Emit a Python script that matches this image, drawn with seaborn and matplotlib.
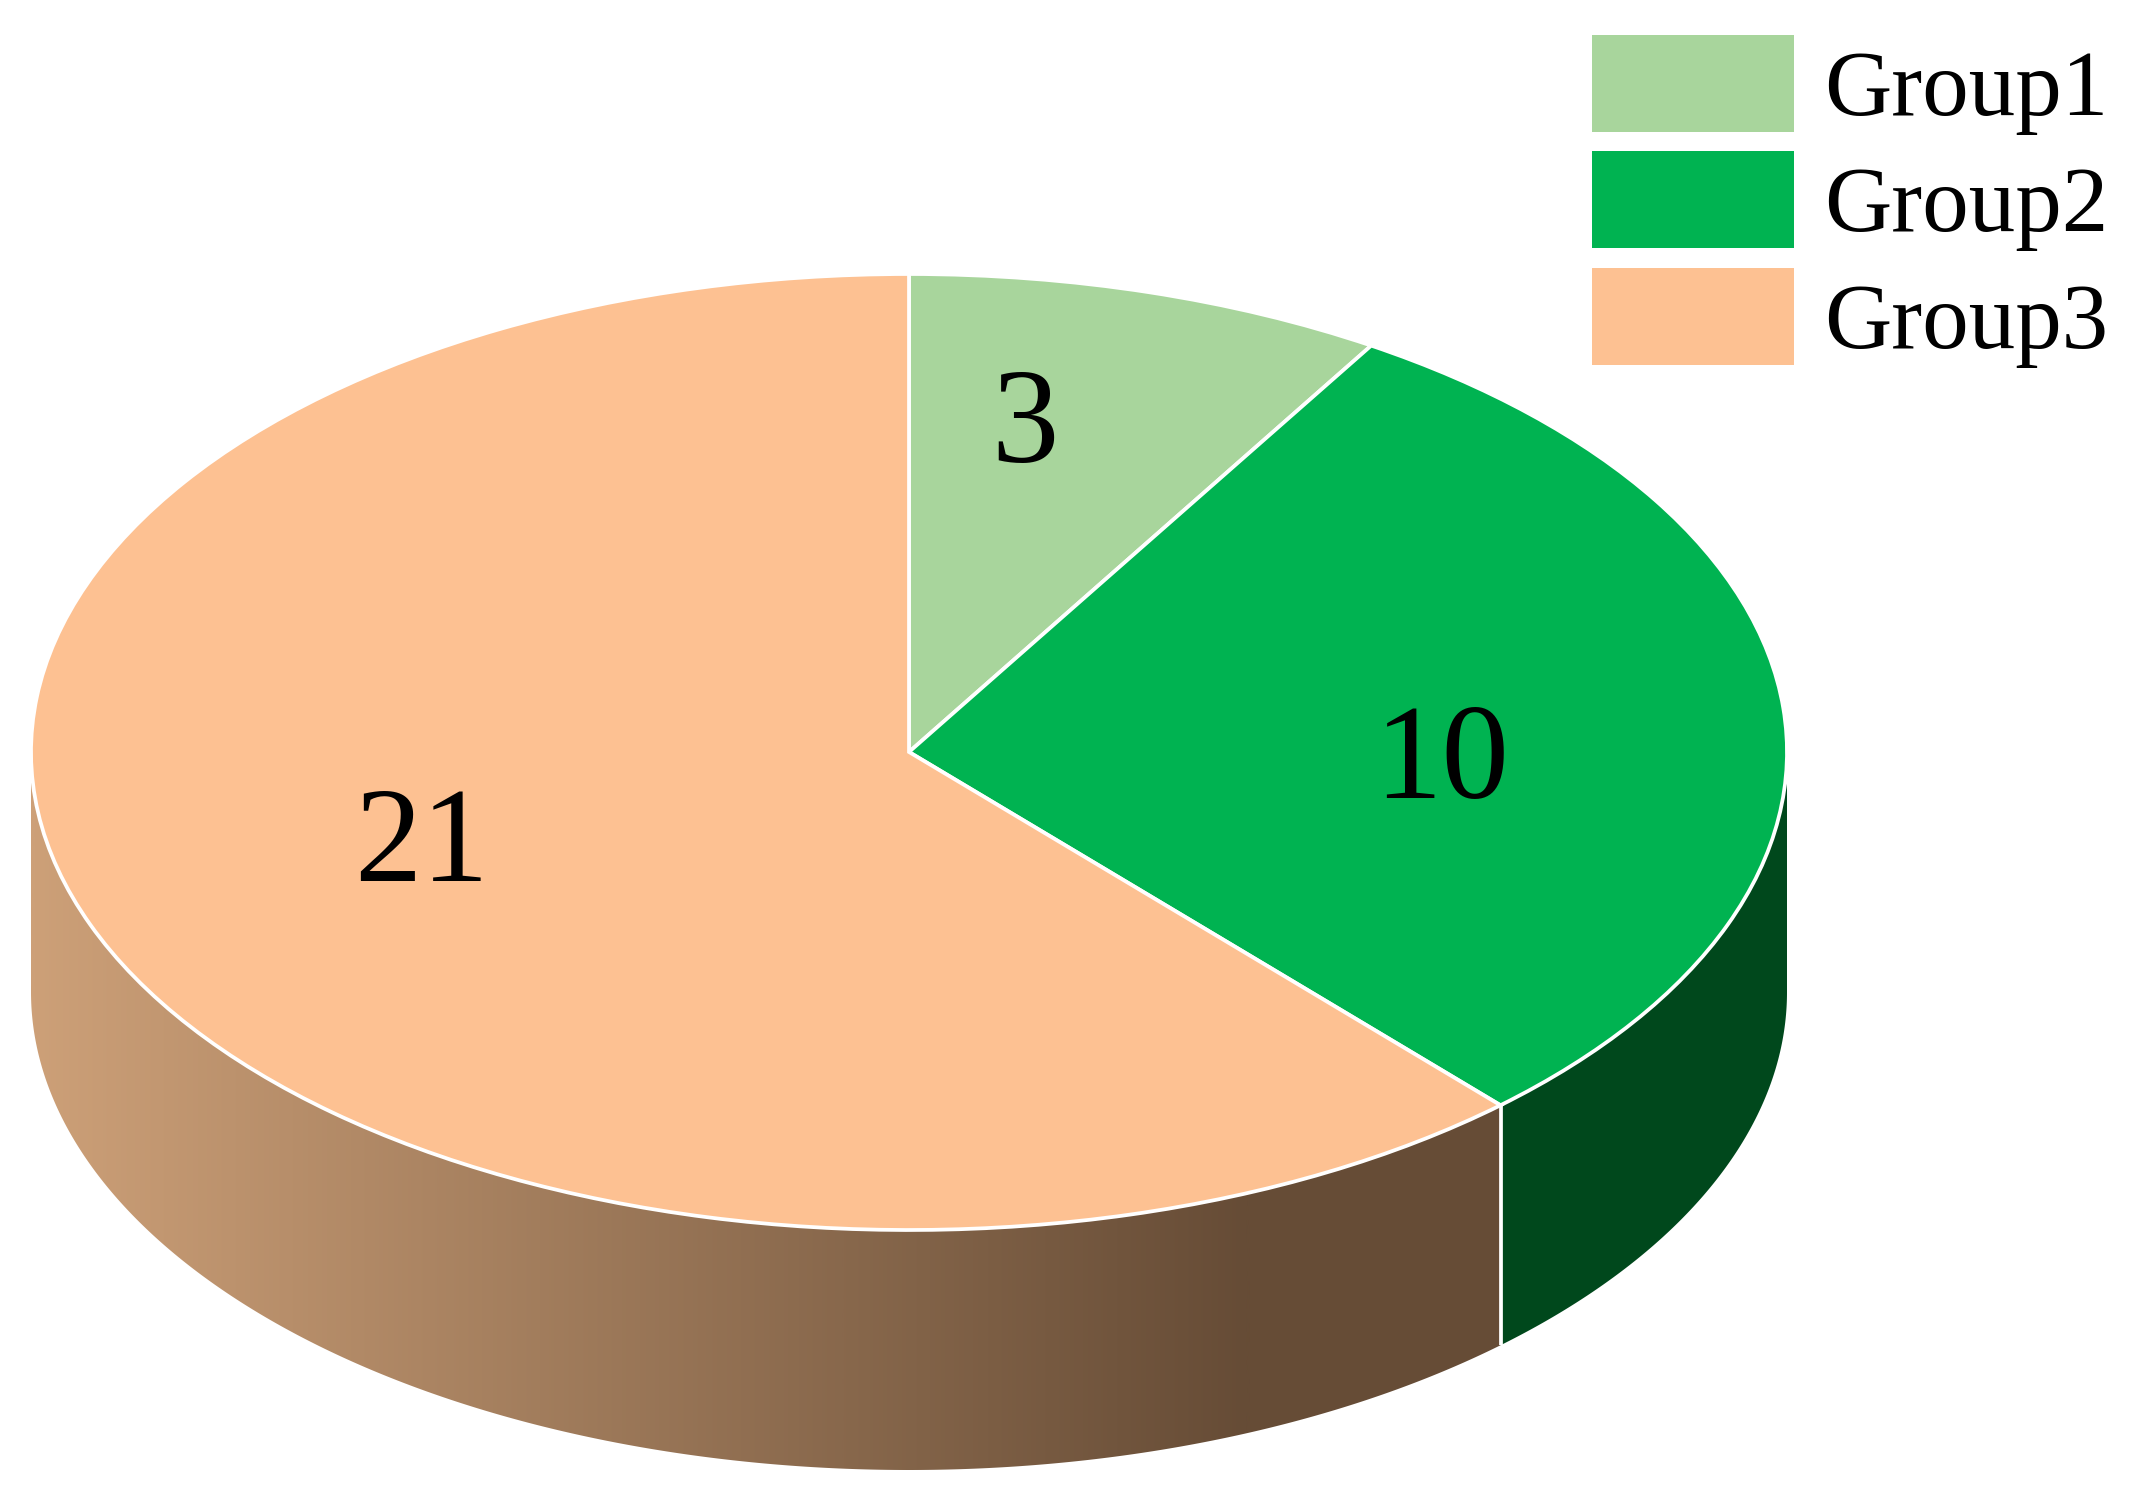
import numpy as np
import matplotlib
matplotlib.use("Agg")
import matplotlib.pyplot as plt
from matplotlib.patches import Patch, Polygon
from matplotlib.colors import LinearSegmentedColormap
import seaborn as sns

# Data
groups = ["Group1", "Group2", "Group3"]
counts = [3, 10, 21]

# Style
top_colors = ["#A8D59C", "#00B351", "#FDC192"]
side_green = "#00481C"
side_brown_light = "#CDA078"
side_brown_dark = "#664C36"
W, H = 2130, 1488
CX, CY, RX, RY, DEPTH = 909, 752, 878, 478, 240
label_xy_px = [(1025, 429), (1442, 765), (421, 848)]

sns.set_theme(style="white")
plt.rcParams["font.family"] = ["Liberation Serif", "DejaVu Serif"]
palette = sns.color_palette(top_colors)

fig = plt.figure(figsize=(W / 100, H / 100), dpi=100)
ax = fig.add_axes([0, 0, 1, 1])

xlim = (-CX / RX, (W - CX) / RX)
ylim = ((CY - H) / RY, CY / RY)
d = DEPTH / RY

wedges, _ = ax.pie(counts, colors=palette, startangle=90, counterclock=False,
                   wedgeprops=dict(edgecolor="white", linewidth=2.7))
for w in wedges:
    w.set_zorder(5)

# Side wall, derived from the same cumulative shares as the pie
cum = np.cumsum(counts) / np.sum(counts) * 2 * np.pi
seam = cum[1]


def wall(t0, t1):
    t = np.linspace(t0, t1, 300)
    x, y = np.sin(t), np.cos(t)
    return np.r_[np.c_[x, y], np.c_[x[::-1], y[::-1] - d]]


ax.add_patch(Polygon(wall(np.pi / 2, seam), closed=True, facecolor=side_green,
                     edgecolor="none", zorder=2))

brown_wall = Polygon(wall(seam, 1.5 * np.pi), closed=True, facecolor="none",
                     edgecolor="none", zorder=2)
ax.add_patch(brown_wall)
cmap = LinearSegmentedColormap.from_list("wall", [side_brown_light, side_brown_dark])
grad_end = (1250 - CX) / RX
img = ax.imshow(np.linspace(0, 1, 512)[None, :], cmap=cmap, aspect="auto",
                extent=(-1, grad_end, -1 - d, 1), zorder=2, interpolation="bilinear")
img.set_clip_path(brown_wall)
ax.add_patch(Polygon(wall(seam, np.pi - np.arcsin(grad_end)), closed=True,
                     facecolor=side_brown_dark, edgecolor="none", zorder=2))

# White seam between the wall segments
sx, sy = np.sin(seam), np.cos(seam)
ax.plot([sx, sx], [sy, sy - d], color="white", lw=2.7, zorder=3, solid_capstyle="butt")

ax.set_aspect("auto")
ax.set_xlim(*xlim)
ax.set_ylim(*ylim)
ax.set_axis_off()

# Value labels
for val, (px, py) in zip(counts, label_xy_px):
    ax.text((px - CX) / RX, (CY - py) / RY, str(val), ha="center", va="center",
            fontsize=97, color="black", zorder=6)

# Legend
handles = [Patch(facecolor=c, edgecolor="none") for c in palette]
fs = 67
fs_px = fs * 100 / 72
leg = ax.legend(handles, groups, loc="upper left", frameon=False,
                bbox_to_anchor=(1592 / W, 1 - 35 / H), bbox_transform=fig.transFigure,
                fontsize=fs, labelcolor="black", borderpad=0, borderaxespad=0,
                handlelength=202 / fs_px, handleheight=(97 / fs_px - 0.245) / 0.65,
                handletextpad=30 / fs_px, labelspacing=16.5 / fs_px)

fig.savefig("out.png", dpi=100, facecolor="white")
